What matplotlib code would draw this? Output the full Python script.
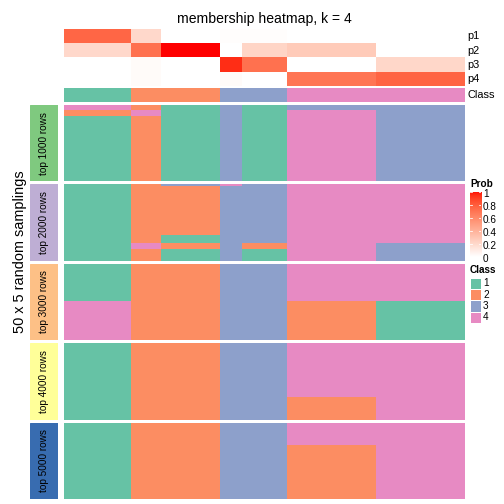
"""
membership heatmap, k = 4
"""

import matplotlib
matplotlib.use('Agg')
import matplotlib.pyplot as plt
import numpy as np
from matplotlib.colors import ListedColormap, to_rgb

plt.rcParams['font.family'] = ['Liberation Sans', 'DejaVu Sans']

# 样本列分组（每组列数）及其成员概率
group_sizes = [9, 4, 8, 3, 6, 12, 12]
p1 = [0.75, 0.20, 0.00, 0.01, 0.01, 0.00, 0.00]
p2 = [0.20, 0.71, 1.00, 0.00, 0.22, 0.27, 0.00]
p3 = [0.00, 0.02, 0.00, 0.94, 0.71, 0.00, 0.21]
p4 = [0.00, 0.02, 0.00, 0.02, 0.00, 0.69, 0.76]
col_class = [1, 2, 2, 3, 3, 4, 4]
prob_names = ['p1', 'p2', 'p3', 'p4']

# 每个切片：每组列上 (类别, 行数) 的连续段
slice_names = ['top 1000 rows', 'top 2000 rows', 'top 3000 rows',
               'top 4000 rows', 'top 5000 rows']
slice1 = [[(4, 4), (2, 4), (1, 42)],
          [(2, 4), (4, 4), (2, 42)],
          [(1, 50)],
          [(3, 50)],
          [(1, 50)],
          [(3, 4), (4, 46)],
          [(3, 50)]]
slice2 = [[(1, 50)],
          [(2, 38), (4, 4), (2, 8)],
          [(3, 1), (2, 32), (1, 5), (2, 4), (1, 8)],
          [(4, 1), (3, 49)],
          [(3, 38), (2, 4), (1, 8)],
          [(4, 50)],
          [(4, 38), (3, 12)]]
slice3 = [[(1, 25), (4, 25)],
          [(2, 50)],
          [(2, 50)],
          [(3, 50)],
          [(3, 50)],
          [(4, 25), (2, 25)],
          [(4, 25), (1, 25)]]
slice4 = [[(1, 50)],
          [(2, 50)],
          [(2, 50)],
          [(3, 50)],
          [(3, 50)],
          [(4, 35), (2, 15)],
          [(4, 50)]]
slice5 = [[(1, 50)],
          [(2, 50)],
          [(2, 50)],
          [(3, 50)],
          [(3, 50)],
          [(4, 15), (2, 35)],
          [(4, 50)]]
slices = [slice1, slice2, slice3, slice4, slice5]

class_colors = ['#66C2A5', '#FC8D62', '#8DA0CB', '#E78AC3']
slice_colors = ['#7FC97F', '#BEAED4', '#FDC086', '#FFFF99', '#386CB0']
prob_ticks = [0, 0.2, 0.4, 0.6, 0.8, 1]

W, H = 504, 504
fig = plt.figure(figsize=(W / 72, H / 72), dpi=72)


def px_axes(x0, y0, x1, y1):
    """按像素坐标（左上角为原点）创建坐标轴"""
    ax = fig.add_axes([x0 / W, 1 - y1 / H, (x1 - x0) / W, (y1 - y0) / H])
    ax.set_axis_off()
    return ax


def fy(y):
    return 1 - y / H


# 白 -> 红 的 LAB 空间插值色带
def srgb_to_lab(c):
    c = np.asarray(c, float)
    lin = np.where(c <= 0.04045, c / 12.92, ((c + 0.055) / 1.055) ** 2.4)
    m = np.array([[0.4124, 0.3576, 0.1805],
                  [0.2126, 0.7152, 0.0722],
                  [0.0193, 0.1192, 0.9505]])
    xyz = m @ lin / np.array([0.95047, 1.0, 1.08883])
    f = np.where(xyz > 0.008856, np.cbrt(xyz), 7.787 * xyz + 16 / 116)
    return np.array([116 * f[1] - 16, 500 * (f[0] - f[1]), 200 * (f[1] - f[2])])


def lab_to_srgb(lab):
    L, a, b = lab
    fy_ = (L + 16) / 116
    f = np.array([fy_ + a / 500, fy_, fy_ - b / 200])
    xyz = np.where(f ** 3 > 0.008856, f ** 3, (f - 16 / 116) / 7.787)
    xyz = xyz * np.array([0.95047, 1.0, 1.08883])
    mi = np.array([[3.2406, -1.5372, -0.4986],
                   [-0.9689, 1.8758, 0.0415],
                   [0.0557, -0.2040, 1.0570]])
    lin = mi @ xyz
    c = np.where(lin <= 0.0031308, 12.92 * lin, 1.055 * np.power(np.clip(lin, 0, None), 1 / 2.4) - 0.055)
    return np.clip(c, 0, 1)


lab_w = srgb_to_lab(to_rgb('white'))
lab_r = srgb_to_lab(to_rgb('red'))
ramp = [lab_to_srgb(lab_w + t * (lab_r - lab_w)) for t in np.linspace(0, 1, 256)]
prob_cmap = ListedColormap(ramp)
class_cmap = ListedColormap(class_colors)

x0, x1 = 64, 465

# 顶部概率注释
prob_mat = np.array([np.repeat(p, group_sizes) for p in [p1, p2, p3, p4]])
ax = px_axes(x0, 29.3, x1, 86)
ax.imshow(prob_mat, cmap=prob_cmap, vmin=0, vmax=1, aspect='auto', interpolation='nearest')
row_h = (86 - 29.3) / 4
for i, name in enumerate(prob_names):
    fig.text(467 / W, fy(29.3 + row_h * (i + 0.5)), name, fontsize=11, va='center', ha='left')

# 类别注释
ax = px_axes(x0, 87.7, x1, 101.7)
ax.imshow(np.repeat(col_class, group_sizes)[None, :] - 1, cmap=class_cmap, vmin=-0.5, vmax=3.5,
          aspect='auto', interpolation='nearest')
fig.text(467 / W, fy(94.7), 'Class', fontsize=11, va='center', ha='left')

# 标题
fig.text((x0 + x1) / 2 / W, fy(19), 'membership heatmap, k = 4', fontsize=14, ha='center', va='center')

# 各切片热图
top, sh, gap = 105, 76.3, 3.1
for k, sl in enumerate(slices):
    cols = []
    for runs, size in zip(sl, group_sizes):
        col = np.concatenate([[c] * n for c, n in runs])
        cols.append(np.repeat(col[:, None], size, axis=1))
    mat = np.hstack(cols) - 1
    y0 = top + k * (sh + gap)
    ax = px_axes(x0, y0, x1, y0 + sh)
    ax.imshow(mat, cmap=class_cmap, vmin=-0.5, vmax=3.5, aspect='auto', interpolation='nearest')

    # 行注释色块
    ax = px_axes(30, y0, 58, y0 + sh)
    ax.add_patch(plt.Rectangle((0, 0), 1, 1, color=slice_colors[k]))
    ax.set_xlim(0, 1)
    ax.set_ylim(0, 1)
    ax.text(0.5, 0.5, slice_names[k], rotation=90, fontsize=10, ha='center', va='center')

fig.text(20 / W, fy(252), '50 x 5 random samplings', rotation=90,
         fontsize=14.5, ha='center', va='center')

# 图例：Prob
fig.text(470 / W, fy(184), 'Prob', fontsize=10, fontweight='bold', ha='left', va='center')
cb_top, cb_bot = 191.7, 257.3
ax = px_axes(470, cb_top, 481.3, cb_bot)
ax.imshow(np.linspace(1, 0, 200)[:, None], cmap=prob_cmap, vmin=0, vmax=1, aspect='auto',
          extent=[0, 1, 0, 1])
ax.set_xlim(0, 1)
ax.set_ylim(0, 1)
for t in prob_ticks:
    ax.plot([0, 0.2], [t, t], color='white', lw=0.8)
    ax.plot([0.8, 1], [t, t], color='white', lw=0.8)
    fig.text(483 / W, fy(cb_bot - t * (cb_bot - cb_top) + 2), f'{t:g}', fontsize=10, ha='left', va='center')

# 图例：Class
fig.text(470 / W, fy(270), 'Class', fontsize=10, fontweight='bold', ha='left', va='center')
box_h = 11.3
for i, c in enumerate(class_colors):
    by = 277.7 + i * box_h
    ax = px_axes(470, by, 481.3, by + box_h)
    ax.add_patch(plt.Rectangle((0, 0), 1, 1, facecolor=c, edgecolor='white', lw=1))
    ax.set_xlim(0, 1)
    ax.set_ylim(0, 1)
    fig.text(483 / W, fy(by + box_h / 2), str(i + 1), fontsize=10, ha='left', va='center')

plt.savefig('out.png', dpi=72)
